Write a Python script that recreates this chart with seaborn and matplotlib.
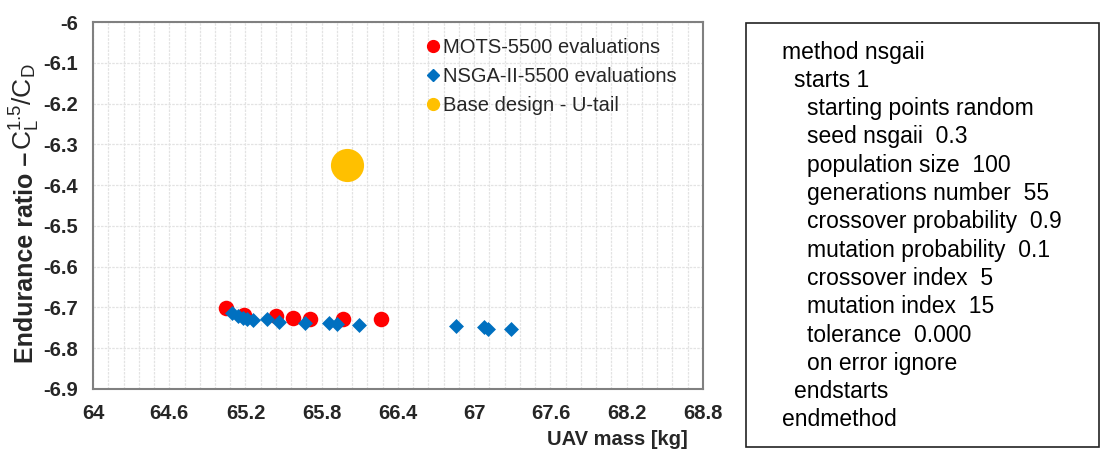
import numpy as np
import seaborn as sns
import matplotlib.pyplot as plt
import pandas as pd
from matplotlib.lines import Line2D
from matplotlib.patches import Rectangle
from matplotlib.ticker import FixedLocator

# MOTS results
mots_mass = [65.05, 65.19, 65.44, 65.57, 65.71, 65.97, 66.27]
mots_ratio = [-6.702, -6.718, -6.722, -6.726, -6.729, -6.729, -6.729]

# NSGA-II results
nsga_mass = [65.09, 65.14, 65.18, 65.21, 65.26, 65.37, 65.46, 65.67, 65.86,
             65.92, 66.09, 66.86, 67.08, 67.11, 67.29]
nsga_ratio = [-6.714, -6.722, -6.726, -6.728, -6.730, -6.729, -6.735, -6.737,
              -6.738, -6.740, -6.743, -6.746, -6.748, -6.752, -6.752]

# base design
base_mass = [66.0]
base_ratio = [-6.35]

x_ticks = [64, 64.6, 65.2, 65.8, 66.4, 67, 67.6, 68.2, 68.8]
y_ticks = [-6.9, -6.8, -6.7, -6.6, -6.5, -6.4, -6.3, -6.2, -6.1, -6]

settings = [(0, 'method nsgaii'), (1, 'starts 1'),
            (2, 'starting points random'), (2, 'seed nsgaii  0.3'),
            (2, 'population size  100'), (2, 'generations number  55'),
            (2, 'crossover probability  0.9'), (2, 'mutation probability  0.1'),
            (2, 'crossover index  5'), (2, 'mutation index  15'),
            (2, 'tolerance  0.000'), (2, 'on error ignore'),
            (1, 'endstarts'), (0, 'endmethod')]

sns.set_style('white')
plt.rcParams['font.family'] = ['Liberation Sans', 'DejaVu Sans']
plt.rcParams['mathtext.fontset'] = 'custom'
plt.rcParams['mathtext.rm'] = 'Liberation Serif'

fig = plt.figure(figsize=(11.02, 4.5), dpi=100)
ax = fig.add_axes([0.0844, 0.1356, 0.5535, 0.8155])

mots = pd.DataFrame({'mass': mots_mass, 'ratio': mots_ratio})
nsga = pd.DataFrame({'mass': nsga_mass, 'ratio': nsga_ratio})
base = pd.DataFrame({'mass': base_mass, 'ratio': base_ratio})

sns.scatterplot(data=mots, x='mass', y='ratio', color='#ff0000', marker='o',
                s=125, linewidth=0, ax=ax, zorder=3)
sns.scatterplot(data=nsga, x='mass', y='ratio', color='#0070c0', marker='D',
                s=58, linewidth=0, ax=ax, zorder=4)
sns.scatterplot(data=base, x='mass', y='ratio', color='#ffc000', marker='o',
                s=570, linewidth=0, ax=ax, zorder=3)

ax.set_xlim(64, 68.8)
ax.set_ylim(-6.9, -6)
ax.xaxis.set_major_locator(FixedLocator(x_ticks))
ax.xaxis.set_minor_locator(FixedLocator(np.arange(64, 68.81, 0.12)))
ax.yaxis.set_major_locator(FixedLocator(y_ticks))
ax.set_xticklabels([f'{v:g}' for v in x_ticks])
ax.set_yticklabels([f'{v:g}' for v in y_ticks])
ax.grid(which='both', axis='x', color='#e3e3e3', linestyle=(0, (2, 1)), lw=0.9)
ax.grid(which='major', axis='y', color='#e3e3e3', linestyle=(0, (2, 1)), lw=0.9)
ax.set_axisbelow(True)
ax.tick_params(which='both', length=0)
ax.tick_params(axis='x', pad=11, labelsize=14.5)
ax.tick_params(axis='y', pad=11, labelsize=14.5)
for lbl in ax.get_xticklabels() + ax.get_yticklabels():
    lbl.set_fontweight('bold')
for sp in ax.spines.values():
    sp.set_color('#808080')
    sp.set_linewidth(1.5)

ax.set_xlabel('UAV mass [kg]', fontsize=14.5, fontweight='bold')
ax.xaxis.set_label_coords(0.86, -0.112)

# y label: bold words plus a larger formula
ax.set_ylabel('')
ylab = fig.text(33 / 1102, 1 - 363 / 450, 'Endurance ratio – ', fontsize=18,
                fontweight='bold', rotation=90, rotation_mode='anchor',
                ha='left', va='baseline')
fig.text(33 / 1102, 1 - 150 / 450, r'$\mathregular{C_L^{1.5}/C_D}$',
         fontsize=19, rotation=90, rotation_mode='anchor',
         ha='left', va='baseline')

handles = [Line2D([], [], ls='', marker='o', color='#ff0000', markersize=8.5),
           Line2D([], [], ls='', marker='D', color='#0070c0', markersize=6),
           Line2D([], [], ls='', marker='o', color='#ffc000', markersize=8.5)]
ax.legend(handles, ['MOTS-5500 evaluations', 'NSGA-II-5500 evaluations',
                    'Base design - U-tail'],
          loc='upper left', bbox_to_anchor=(0.527, 0.978), frameon=False,
          fontsize=14.5, handletextpad=0.0, handlelength=1.0,
          labelspacing=0.5, borderaxespad=0)

# settings box on the right
fig.add_artist(Rectangle((746 / 1102, 3 / 450), 353 / 1102, 424 / 450,
                         transform=fig.transFigure, fill=False,
                         edgecolor='#222222', lw=1.2))
indent = [782, 794, 807]
for i, (lev, line) in enumerate(settings):
    fig.text(indent[lev] / 1102, 1 - (52 + i * 28.3) / 450, line,
             fontsize=16.5, va='center', ha='left', color='black')

fig.savefig('out.png', dpi=100)
